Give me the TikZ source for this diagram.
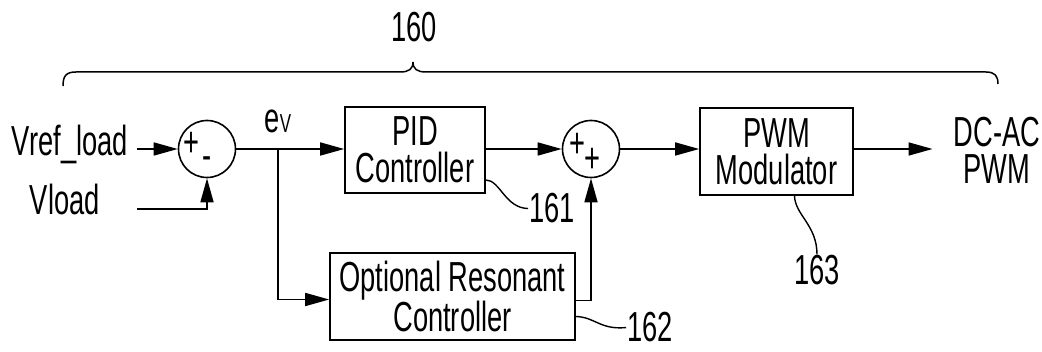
\documentclass[tikz,border=0pt]{standalone}
\usepackage{fontspec}
\setmainfont{Liberation Sans}[FakeStretch=0.65]
\usetikzlibrary{arrows.meta}
\newcommand\bigtxt{\fontsize{42}{37}\selectfont}
\newcommand\signtxt{\fontsize{42}{42}\selectfont}
\begin{document}
\begin{tikzpicture}[x=1pt,y=-1pt,
  blk/.style={draw, line width=1.6pt, inner sep=0pt, align=center, font=\bigtxt},
  sumc/.style={draw, circle, line width=1.6pt, minimum size=57pt, inner sep=0pt},
  lbl/.style={font=\bigtxt, inner sep=1pt},
  sgn/.style={font=\signtxt, inner sep=0pt},
  wire/.style={line width=1.6pt},
  arr/.style={wire, -{Triangle[length=24pt,width=13pt]}},
  lead/.style={line width=1.4pt}]
\useasboundingbox (0,0) rectangle (1042,352);

% blocks
\node[blk, minimum width=140pt, minimum height=86pt] (pid) at (415,150) {PID\\Controller};
\node[blk, minimum width=245pt, minimum height=87pt] (res) at (452.5,296.5) {Optional Resonant\\Controller};
\node[blk, minimum width=153pt, minimum height=87pt] (pwm) at (776.5,151.5) {PWM\\Modulator};
\node[sumc] (s1) at (207,149) {};
\node[sumc] (s2) at (591,149) {};

% signs
\node[sgn] (s1p) at (191,144) {+};
\node[sgn] (s1m) at (207,163) {-};
\node[sgn] (s2p1) at (577,145) {+};
\node[sgn] (s2p2) at (592,160) {+};

% texts
\node[lbl, anchor=base east, inner xsep=9pt] (vref) at (137,156) {Vref\_load};
\node[lbl, anchor=base east] (vload) at (101,215) {Vload};
\coordinate (vloadend) at (137,209);
\coordinate (br) at (278,149);
\node[lbl, anchor=base] (ev) at (278,133) {e{\fontsize{26}{26}\selectfont V}};
\node[lbl, align=center, inner xsep=21pt] (out) at (997,150) {DC-AC\\PWM};
\node[lbl, anchor=base] (l160) at (414,42) {160};
\node[lbl, anchor=base] (l161) at (552,223) {161};
\node[lbl, anchor=base] (l162) at (650,342) {162};
\node[lbl, anchor=base] (l163) at (817,285) {163};

% connectors
\draw[arr] (vref.east |- s1) -- (s1.west);
\draw[arr] (vloadend) -| (s1.south);
\draw[wire] (s1.east) -- (br);
\draw[arr] (br) -- (pid.west |- br);
\draw[arr] (br) |- ([yshift=-3pt]res.west);
\draw[arr] (pid.east |- s2) -- (s2.west);
\draw[arr] ([yshift=-4pt]res.east) -| (s2.south);
\draw[arr] (s2.east) -- (pwm.west |- s2);
\draw[arr] (pwm.east |- s2) -- (out.west |- s2);

% leaders
\draw[lead] ([yshift=-30pt]pid.east) .. controls (500,180) and (505,208) .. (l161.west);
\draw[lead] ([yshift=-20pt]res.east) .. controls (595,317) and (600,330) .. (l162.west);
\draw[lead] ([xshift=18pt]pwm.south) .. controls (795,215) and (817,225) .. (l163.north);

% brace
\draw[line width=1.5pt] (63,86) .. controls (63,76) and (66,72) .. (76,72) -- (400,72)
  .. controls (409,72) and (413,69) .. (413,62)
  .. controls (413,69) and (417,72) .. (426,72) -- (986,72)
  .. controls (995,72) and (998,76) .. (998,84);
\end{tikzpicture}
\end{document}
